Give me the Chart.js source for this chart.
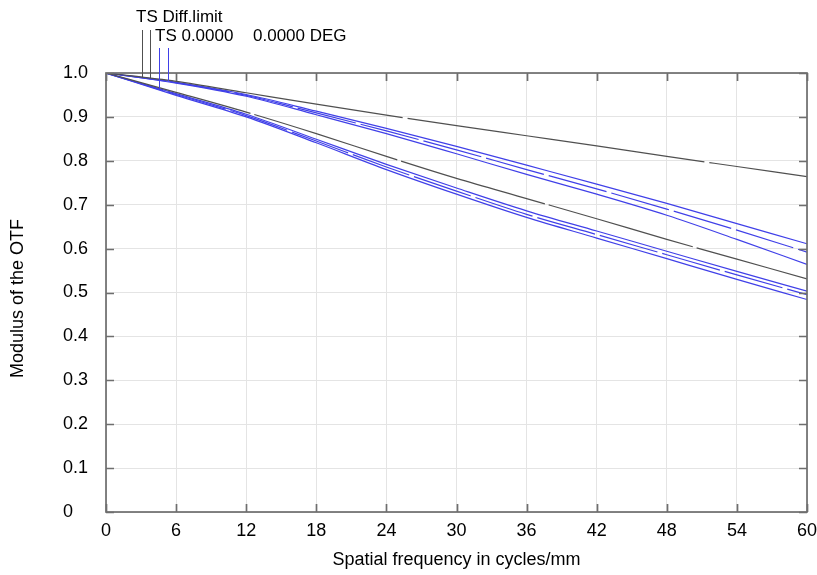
<!DOCTYPE html>
<html>
<head>
<meta charset="utf-8">
<script src="https://cdn.jsdelivr.net/npm/chart.js@4.4.1/dist/chart.umd.min.js"></script>
<style>
  html, body { margin: 0; padding: 0; background: #fff; }
</style>
</head>
<body>
<canvas id="mtf" width="817" height="575"></canvas>
<script>
// spatial frequency samples (cycles/mm)
const freq = [0, 6, 12, 18, 24, 30, 36, 42, 48, 54, 60];

// diffraction limit, tangential / sagittal
const diffUpper = [1, 0.981, 0.955, 0.929, 0.904, 0.880, 0.857, 0.834, 0.810, 0.787, 0.764];
const diffLower = [1, 0.956, 0.911, 0.862, 0.810, 0.760, 0.714, 0.668, 0.621, 0.576, 0.531];

// field 0.0000 DEG, upper group
const fieldA = [1, 0.979, 0.951, 0.913, 0.874, 0.833, 0.790, 0.747, 0.703, 0.657, 0.611];
const fieldB = [1, 0.978, 0.949, 0.909, 0.868, 0.825, 0.780, 0.736, 0.690, 0.642, 0.592];
const fieldC = [1, 0.977, 0.947, 0.905, 0.862, 0.816, 0.769, 0.724, 0.676, 0.621, 0.564];

// field 0.0000 DEG, lower group
const fieldD = [1, 0.953, 0.906, 0.849, 0.792, 0.738, 0.686, 0.640, 0.594, 0.548, 0.503];
const fieldE = [1, 0.951, 0.903, 0.845, 0.786, 0.731, 0.678, 0.632, 0.586, 0.540, 0.495];
const fieldF = [1, 0.949, 0.900, 0.841, 0.780, 0.724, 0.671, 0.624, 0.577, 0.530, 0.484];

const yTicks = [0, 0.1, 0.2, 0.3, 0.4, 0.5, 0.6, 0.7, 0.8, 0.9, 1.0];
const xTicks = [0, 6, 12, 18, 24, 30, 36, 42, 48, 54, 60];

const FONT = "'Liberation Sans', Arial, Helvetica, sans-serif";
const GREY = 'rgb(80,80,80)';
const BLUE = 'rgb(64,64,232)';

function series(values) {
    return freq.map((f, i) => ({ x: f, y: values[i] }));
}

function line(values, color, dash) {
    return {
        data: series(values),
        borderColor: color,
        borderWidth: 1.2,
        borderDash: dash || [],
        pointRadius: 0,
        fill: false,
        cubicInterpolationMode: 'monotone'
    };
}

// value of a curve at frequency f, linear between samples
function valueAt(values, f) {
    for (let i = 1; i < freq.length; i++) {
        if (f <= freq[i]) {
            const t = (f - freq[i - 1]) / (freq[i] - freq[i - 1]);
            return values[i - 1] + t * (values[i] - values[i - 1]);
        }
    }
    return values[values.length - 1];
}

// frame with inward ticks, legend callouts, rotated y title
const framePlugin = {
    id: 'frame',
    afterDatasetsDraw(chart) {
        const ctx = chart.ctx;
        const { left, right, top, bottom } = chart.chartArea;
        const xs = chart.scales.x;
        const ys = chart.scales.y;
        ctx.save();
        ctx.strokeStyle = 'rgb(110,110,110)';
        ctx.lineWidth = 1.7;
        ctx.strokeRect(left, top, right - left, bottom - top);
        ctx.beginPath();
        xTicks.forEach(v => {
            const px = Math.round(xs.getPixelForValue(v)) + 0.5;
            ctx.moveTo(px, bottom); ctx.lineTo(px, bottom - 8);
            ctx.moveTo(px, top); ctx.lineTo(px, top + 8);
        });
        yTicks.forEach(v => {
            const py = Math.round(ys.getPixelForValue(v)) + 0.5;
            ctx.moveTo(left, py); ctx.lineTo(left + 8, py);
            ctx.moveTo(right, py); ctx.lineTo(right - 8, py);
        });
        ctx.stroke();

        // legend callout lines, each dropping onto its curve
        const marks = [
            { f: 3.05, top: 30, curve: diffUpper, color: GREY },
            { f: 3.75, top: 30, curve: diffUpper, color: GREY },
            { f: 4.55, top: 48, curve: fieldD, color: BLUE },
            { f: 5.3, top: 48, curve: fieldA, color: BLUE }
        ];
        ctx.lineWidth = 1;
        marks.forEach(m => {
            const px = Math.round(xs.getPixelForValue(m.f)) + 0.5;
            ctx.strokeStyle = m.color;
            ctx.beginPath();
            ctx.moveTo(px, m.top);
            ctx.lineTo(px, ys.getPixelForValue(valueAt(m.curve, m.f)));
            ctx.stroke();
        });

        ctx.fillStyle = '#000';
        ctx.font = '17px ' + FONT;
        ctx.textBaseline = 'alphabetic';
        ctx.textAlign = 'left';
        ctx.fillText('TS Diff.limit', 136, 22);
        ctx.fillText('TS 0.0000', 155, 41);
        ctx.fillText('0.0000 DEG', 253, 41);

        ctx.font = '18px ' + FONT;
        ctx.translate(18, (top + bottom) / 2 + 6);
        ctx.rotate(-Math.PI / 2);
        ctx.textAlign = 'center';
        ctx.textBaseline = 'middle';
        ctx.fillText('Modulus of the OTF', 0, 0);
        ctx.restore();
    }
};

new Chart(document.getElementById('mtf'), {
    type: 'line',
    data: {
        datasets: [
            line(diffUpper, GREY, [300, 5]),
            line(diffLower, GREY, [150, 4]),
            line(fieldA, BLUE),
            line(fieldB, BLUE, [60, 5]),
            line(fieldC, BLUE),
            line(fieldD, BLUE),
            line(fieldE, BLUE, [60, 5]),
            line(fieldF, BLUE)
        ]
    },
    options: {
        responsive: false,
        animation: false,
        events: [],
        layout: { padding: { left: 63, right: 0, top: 73, bottom: 0 } },
        plugins: { legend: { display: false }, tooltip: { enabled: false } },
        scales: {
            x: {
                type: 'linear',
                min: 0,
                max: 60,
                afterBuildTicks: scale => { scale.ticks = xTicks.map(v => ({ value: v })); },
                afterFit: scale => {
                    scale.height = 63;
                    scale.paddingLeft = 0;
                    scale.paddingRight = 10;
                },
                grid: { color: 'rgb(228,228,228)', lineWidth: 1, drawTicks: false },
                border: { display: false },
                ticks: { color: '#000', padding: 8, maxRotation: 0, font: { family: FONT, size: 18 } },
                title: {
                    display: true,
                    text: 'Spatial frequency in cycles/mm',
                    color: '#000',
                    font: { family: FONT, size: 18 },
                    padding: { top: 4, bottom: 4 }
                }
            },
            y: {
                type: 'linear',
                min: 0,
                max: 1,
                afterBuildTicks: scale => { scale.ticks = yTicks.map(v => ({ value: v })); },
                afterFit: scale => { scale.width = 43; },
                grid: { color: 'rgb(228,228,228)', lineWidth: 1, drawTicks: false },
                border: { display: false },
                ticks: {
                    color: '#000',
                    padding: 16,
                    crossAlign: 'far',
                    font: { family: FONT, size: 18 },
                    callback: v => (v === 0 ? '0' : v.toFixed(1))
                }
            }
        }
    },
    plugins: [framePlugin]
});
</script>
</body>
</html>
